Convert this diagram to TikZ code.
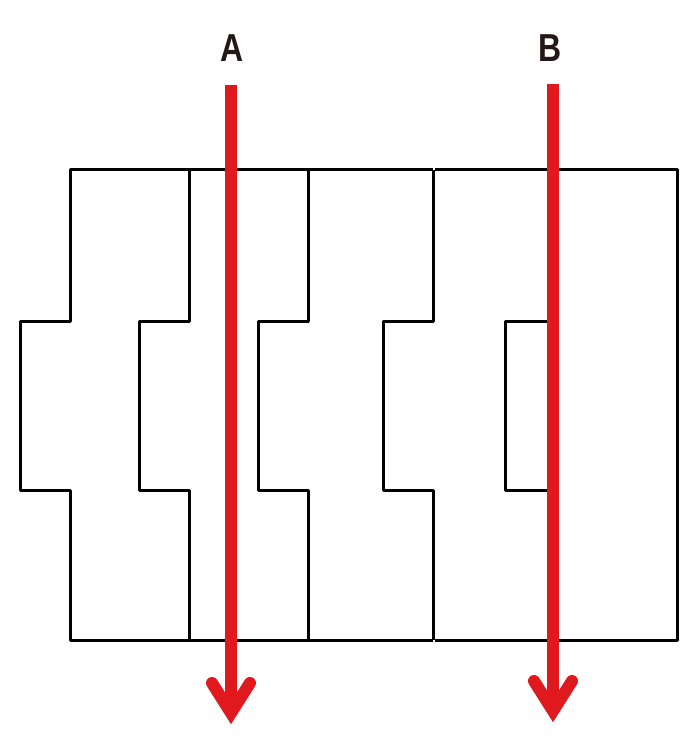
\documentclass[tikz,border=0pt]{standalone}
\usepackage{fontspec}
\setmainfont{Liberation Sans}
\newfontfamily\labelfont[FakeStretch=0.82]{Liberation Sans Bold}
\definecolor{arrowred}{HTML}{E0191E}
\definecolor{labelink}{HTML}{231815}
\begin{document}
\begin{tikzpicture}[x=1pt,y=-1pt,
  wall/.style={draw=black,line width=3pt,line join=round},
  flow/.style={draw=arrowred,line width=12pt},
  flowhead/.style={draw=arrowred,line width=12pt,line cap=round,line join=miter},
  lbl/.style={text=labelink,font=\labelfont\fontsize{39}{39}\selectfont,inner sep=0pt}]
\useasboundingbox (0,0) rectangle (698,754);
% outer frame
\draw[wall] (433,170) -- (70,170) -- (70,321) -- (20,321) -- (20,490) -- (70,490) -- (70,640) -- (433,640);
\draw[wall] (435,170) -- (677,170) -- (677,640) -- (435,640);
% interlocking boundaries
\draw[wall] (189,170) -- (189,321) -- (139,321) -- (139,490) -- (189,490) -- (189,640);
\draw[wall] (308,170) -- (308,321) -- (258,321) -- (258,490) -- (308,490) -- (308,640);
\draw[wall] (433,170) -- (433,321) -- (383,321) -- (383,490) -- (433,490) -- (433,640);
% notch at B
\draw[wall] (550,321) -- (505,321) -- (505,490) -- (550,490);
% labels
\node[lbl] (la) at (232.5,48) {A};
\node[lbl] (lb) at (550,48) {B};
% arrows
\coordinate (as) at (231,85);
\coordinate (at) at (231,713);
\coordinate (bs) at (553,84);
\coordinate (bt) at (553,711);
\draw[flow] (as) -- (at);
\draw[flowhead] (212,683) -- (at) -- (250,683);
\draw[flow] (bs) -- (bt);
\draw[flowhead] (534,681) -- (bt) -- (572,681);
\end{tikzpicture}
\end{document}
